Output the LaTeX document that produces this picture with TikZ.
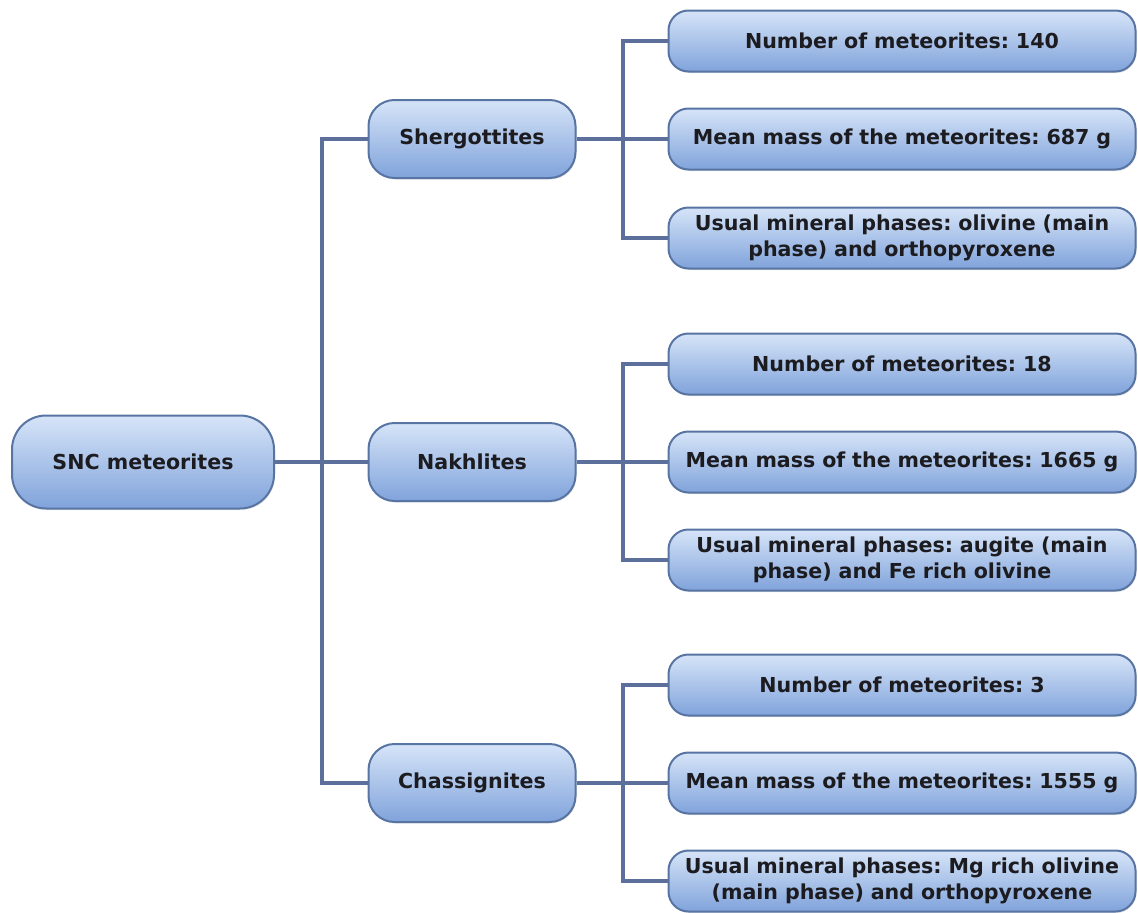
\documentclass[tikz,border=0pt]{standalone}
\usepackage{fontspec}
\setmainfont{DejaVu Sans}
\usepackage{tikz}
\usetikzlibrary{positioning, shadows}
\frenchspacing

\definecolor{boxtop}{RGB}{214,228,248}
\definecolor{boxbot}{RGB}{128,163,219}
\definecolor{boxline}{RGB}{88,116,163}
\definecolor{linkcol}{RGB}{92,112,155}
\definecolor{textcol}{RGB}{28,28,32}

\begin{document}
\begin{tikzpicture}[
        x=1pt, y=-1pt,
        box/.style={rectangle, draw=boxline, line width=2pt, top color=boxtop, bottom color=boxbot,
            align=center, text=textcol, font=\fontsize{20.6}{26}\selectfont\bfseries,
            drop shadow={shadow xshift=1pt, shadow yshift=-1.5pt, opacity=0.2}},
        root/.style={box, rounded corners=34pt, minimum width=262pt, minimum height=93pt},
        group/.style={box, rounded corners=26pt, minimum width=207pt, minimum height=78pt},
        fact/.style={box, rounded corners=20pt, minimum width=467pt, minimum height=61pt, text width=458pt, inner xsep=2pt, inner ysep=1pt},
        link/.style={draw=linkcol, line width=4pt}
    ]
        \useasboundingbox (0,0) rectangle (1138,913);
        % main node and the three groups
        \node[root] (snc) at (143,462) {SNC meteorites};
        \node[group] (sher) at (472,139) {Shergottites};
        \node[group] (nakh) at (472,462) {Nakhlites};
        \node[group] (chas) at (472,783) {Chassignites};
        % facts per group
        \node[fact] (sher1) at (902,41) {Number of meteorites: 140};
        \node[fact] (sher2) at (902,139) {Mean mass of the meteorites: 687 g};
        \node[fact] (sher3) at (902,238) {Usual mineral phases: olivine (main\\phase) and orthopyroxene};
        \node[fact] (nakh1) at (902,364) {Number of meteorites: 18};
        \node[fact] (nakh2) at (902,462) {Mean mass of the meteorites: 1665 g};
        \node[fact] (nakh3) at (902,560) {Usual mineral phases: augite (main\\phase) and Fe rich olivine};
        \node[fact] (chas1) at (902,685) {Number of meteorites: 3};
        \node[fact] (chas2) at (902,783) {Mean mass of the meteorites: 1555 g};
        \node[fact] (chas3) at (902,881) {Usual mineral phases: Mg rich olivine\\(main phase) and orthopyroxene};
        % connectors
        \draw[link] (snc.east) -- ++(47,0) |- (sher.west);
        \draw[link] (snc.east) -- ++(47,0) |- (chas.west);
        \draw[link] (snc.east) -- (nakh.west);
        \draw[link] (sher.east) -- ++(46,0) |- (sher1.west);
        \draw[link] (sher.east) -- ++(46,0) |- (sher3.west);
        \draw[link] (sher.east) -- (sher2.west);
        \draw[link] (nakh.east) -- ++(46,0) |- (nakh1.west);
        \draw[link] (nakh.east) -- ++(46,0) |- (nakh3.west);
        \draw[link] (nakh.east) -- (nakh2.west);
        \draw[link] (chas.east) -- ++(46,0) |- (chas1.west);
        \draw[link] (chas.east) -- ++(46,0) |- (chas3.west);
        \draw[link] (chas.east) -- (chas2.west);
    \end{tikzpicture}
\end{document}
